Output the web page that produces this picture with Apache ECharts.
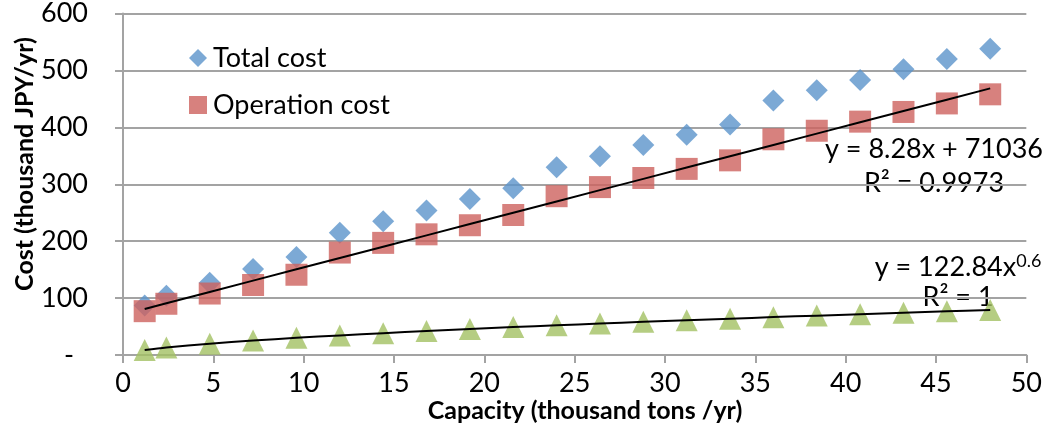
<!DOCTYPE html>
<html>
<head>
<meta charset="utf-8">
<script src="https://cdn.jsdelivr.net/npm/echarts@6/dist/echarts.min.js"></script>
<style>
  html, body { margin: 0; padding: 0; background: #fff; }
  #chart { width: 1045px; height: 436px; }
</style>
</head>
<body>
<div id="chart"></div>
<script>
// Plant capacity (thousand tons / yr)
const capacity = [1.2, 2.4, 4.8, 7.2, 9.6, 12, 14.4, 16.8, 19.2, 21.6, 24, 26.4, 28.8, 31.2, 33.6, 36, 38.4, 40.8, 43.2, 45.6, 48];

// Costs (thousand JPY / yr)
const totalCost = [87, 104, 127, 151, 172, 215, 235, 254, 274, 293, 330, 349, 369, 387, 405, 447, 465, 483, 502, 520, 538];
const operationCost = [77, 90, 108, 123, 141, 180, 197, 212, 228, 246, 279, 295, 311, 327, 342, 379, 394, 410, 427, 442, 458];
const otherCost = [8.6, 13.1, 19.9, 25.3, 30.1, 34.4, 38.4, 42.1, 45.6, 49.0, 52.2, 55.3, 58.2, 61.1, 63.8, 66.5, 69.2, 71.7, 74.2, 76.7, 79.1];

// Fitted trendline coefficients (x in tons, y in JPY)
const linearFit = { slope: 8.28, intercept: 71036, r2: '0.9973' };
const powerFit = { coef: 122.84, exp: 0.6, r2: '1' };

const yTicks = [0, 100, 200, 300, 400, 500, 600];

const FONT = 'Lato, "Open Sans", sans-serif';
const GRID_GRAY = '#A3A3A3';

const linearLine = capacity.map(x => [x, (linearFit.slope * x * 1000 + linearFit.intercept) / 1000]);
const powerLine = capacity.map(x => [x, powerFit.coef * Math.pow(x * 1000, powerFit.exp) / 1000]);

const pairs = arr => capacity.map((x, i) => [x, arr[i]]);

const chart = echarts.init(document.getElementById('chart'), null, { renderer: 'canvas' });

chart.setOption({
  animation: false,
  backgroundColor: '#ffffff',
  grid: { left: 123, top: 13, right: 9, bottom: 81, containLabel: false },
  legend: {
    orient: 'vertical',
    left: 184,
    top: 38,
    itemWidth: 18,
    itemHeight: 18,
    itemGap: 17,
    textStyle: { fontFamily: FONT, fontSize: 27, color: '#000', lineHeight: 30, padding: [0, 0, 0, 1] },
    data: [
      { name: 'Total cost', icon: 'diamond' },
      { name: 'Operation cost', icon: 'rect' }
    ]
  },
  xAxis: {
    type: 'value',
    min: 0,
    max: 50,
    interval: 5,
    splitLine: { show: false },
    axisLine: { show: true, onZero: false, lineStyle: { color: GRID_GRAY, width: 2 } },
    axisTick: { show: true, length: 8, lineStyle: { color: GRID_GRAY, width: 2 } },
    axisLabel: { fontFamily: FONT, fontSize: 27, color: '#000', margin: 15 }
  },
  yAxis: {
    type: 'value',
    min: yTicks[0],
    max: yTicks[yTicks.length - 1],
    interval: 100,
    splitLine: { show: true, lineStyle: { color: GRID_GRAY, width: 2 } },
    axisLine: { show: true, lineStyle: { color: GRID_GRAY, width: 2 } },
    axisTick: { show: true, length: 8, lineStyle: { color: GRID_GRAY, width: 2 } },
    axisLabel: {
      fontFamily: FONT, fontSize: 27, color: '#000', margin: 35,
      formatter: v => v === 0 ? '{dash|-}' : String(v),
      rich: { dash: { fontFamily: FONT, fontSize: 27, color: '#000', padding: [0, 14, 0, 0] } }
    }
  },
  graphic: [
    {
      type: 'text', x: 25, y: 164, rotation: Math.PI / 2,
      style: { text: 'Cost (thousand JPY/yr)', font: 'bold 25px ' + FONT, fill: '#000', align: 'center', verticalAlign: 'middle' }
    },
    {
      type: 'text', x: 585, y: 411,
      style: { text: 'Capacity (thousand tons /yr)', font: 'bold 25px ' + FONT, fill: '#000', align: 'center', verticalAlign: 'middle' }
    },
    {
      type: 'text', x: 934, y: 149,
      style: { text: 'y = ' + linearFit.slope + 'x + ' + linearFit.intercept, font: '27px ' + FONT, fill: '#000', align: 'center', verticalAlign: 'middle' }
    },
    {
      type: 'text', x: 934, y: 183,
      style: { text: 'R² = ' + linearFit.r2, font: '27px ' + FONT, fill: '#000', align: 'center', verticalAlign: 'middle' }
    },
    {
      type: 'text', x: 958, y: 267,
      style: {
        text: 'y = ' + powerFit.coef + 'x{sup|' + powerFit.exp + '}',
        font: '27px ' + FONT, fill: '#000', align: 'center', verticalAlign: 'middle',
        rich: { sup: { fontFamily: FONT, fontSize: 18, fill: '#000', verticalAlign: 'top', padding: [0, 0, 12, 0] } }
      }
    },
    {
      type: 'text', x: 958, y: 297,
      style: { text: 'R² = ' + powerFit.r2, font: '27px ' + FONT, fill: '#000', align: 'center', verticalAlign: 'middle' }
    }
  ],
  series: [
    {
      name: 'Total cost', type: 'scatter', symbol: 'diamond', symbolSize: 22,
      itemStyle: { color: '#5B94CB' }, data: pairs(totalCost), z: 2
    },
    {
      name: 'Operation cost', type: 'scatter', symbol: 'rect', symbolSize: 22,
      itemStyle: { color: '#CD625E' }, data: pairs(operationCost), z: 3
    },
    {
      name: 'Other cost', type: 'scatter', symbol: 'triangle', symbolSize: 22,
      itemStyle: { color: '#A2C163' }, data: pairs(otherCost), z: 3
    },
    {
      name: 'Linear fit', type: 'line', data: linearLine, showSymbol: false, symbol: 'none',
      lineStyle: { color: '#000', width: 2 }, z: 5, silent: true
    },
    {
      name: 'Power fit', type: 'line', data: powerLine, showSymbol: false, symbol: 'none', smooth: 0.3,
      lineStyle: { color: '#000', width: 2 }, z: 5, silent: true
    }
  ]
});
</script>
</body>
</html>
